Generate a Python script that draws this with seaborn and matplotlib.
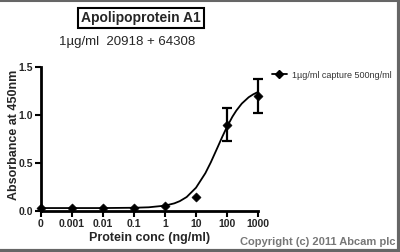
import matplotlib
matplotlib.use("Agg")
import matplotlib.pyplot as plt
import matplotlib.lines as mlines
import seaborn as sns
import pandas as pd

sns.set_style("ticks")
plt.rcParams['font.family'] = ['Liberation Sans', 'DejaVu Sans']

# Data (the "0" concentration is drawn at 0.0001 on the log axis)
tick_labels = ["0", "0.001", "0.01", "0.1", "1", "10", "100", "1000"]
tick_pos = [0.0001, 0.001, 0.01, 0.1, 1, 10, 100, 1000]
conc = [0.0001, 0.001, 0.01, 0.1, 1, 10, 100, 1000]
absorb = [0.03, 0.03, 0.03, 0.03, 0.05, 0.14, 0.90, 1.20]
err = [0, 0, 0, 0, 0, 0, 0.17, 0.18]

# Fitted curve points
curve_x = [0.0001, 0.001, 0.01, 0.1, 0.3, 1, 2, 3, 5, 10, 20, 30, 50, 70, 100,
           150, 200, 300, 500, 700, 1000]
curve_y = [0.03, 0.03, 0.030, 0.033, 0.038, 0.055, 0.079, 0.102, 0.145, 0.242,
           0.393, 0.506, 0.665, 0.771, 0.877, 0.983, 1.046, 1.119, 1.185, 1.215, 1.240]

pts = pd.DataFrame({"conc": conc, "abs": absorb, "err": err})
crv = pd.DataFrame({"x": curve_x, "y": curve_y})

fig = plt.figure(figsize=(4.0, 2.52), dpi=100)
ax = fig.add_axes([0.1025, 0.163, 0.5425, 0.571])

sns.lineplot(data=crv, x="x", y="y", ax=ax, color="black", lw=1.3)
sub = pts[pts["err"] > 0]
ax.errorbar(sub["conc"], sub["abs"], yerr=sub["err"], fmt="none", ecolor="black",
            elinewidth=1.6, capsize=3.5, capthick=1.6, zorder=3, clip_on=False)
sns.scatterplot(data=pts, x="conc", y="abs", ax=ax, marker="D", color="black",
                s=22, edgecolor="black", zorder=4, clip_on=False)

ax.set_xscale("log")
ax.set_xlim(0.0001, 1000)
ax.set_ylim(0, 1.5)
ax.set_xticks(tick_pos)
ax.set_xticklabels(tick_labels)
ax.minorticks_off()
ax.set_yticks([0.0, 0.5, 1.0, 1.5])
ax.set_yticklabels(["0.0", "0.5", "1.0", "1.5"])
for lab in ax.get_xticklabels() + ax.get_yticklabels():
    lab.set_fontweight("bold")
    lab.set_fontsize(7.5)
ax.tick_params(axis="both", length=4, width=1.5, pad=1.5, color="black")
for s in ["left", "bottom"]:
    ax.spines[s].set_linewidth(2)
    ax.spines[s].set_color("black")
ax.spines["top"].set_visible(False)
ax.spines["right"].set_visible(False)
ax.set_xlabel("Protein conc (ng/ml)", fontsize=9, fontweight="bold", labelpad=2.5)
ax.set_ylabel("Absorbance at 450nm", fontsize=9, fontweight="bold", labelpad=0)
ax.yaxis.set_label_coords(-0.097, 0.53)

# Legend
h = mlines.Line2D([], [], color="black", marker="D", markersize=4, lw=1.3)
fig.legend([h], ["1\u00b5g/ml capture 500ng/ml"], loc="center left",
           bbox_to_anchor=(0.66, 1 - 75 / 252), frameon=False, fontsize=6.5,
           handlelength=1.6, handletextpad=0.6, labelcolor="#333333")

# Titles
fig.text(141 / 400, 1 - 18 / 252, "Apolipoprotein A1", ha="center", va="center",
         fontsize=10, fontweight="bold",
         bbox=dict(boxstyle="square,pad=0.25", fc="white", ec="black", lw=1.5))
fig.text(127 / 400, 1 - 42 / 252, "1\u00b5g/ml  20918 + 64308", ha="center",
         va="center", fontsize=9.5)
fig.text(396 / 400, 1 - 242 / 252, "Copyright (c) 2011 Abcam plc", ha="right",
         va="center", fontsize=8, fontweight="bold", color="#777777")

# Frame border
for (xs, ys, w) in [([0, 1], [0.998, 0.998], 1.5), ([0.997, 0.997], [0, 1], 3),
                    ([0, 1], [0.004, 0.004], 3)]:
    fig.add_artist(mlines.Line2D(xs, ys, color="#666666", lw=w,
                                 transform=fig.transFigure))

fig.savefig("out.png", dpi=100)
